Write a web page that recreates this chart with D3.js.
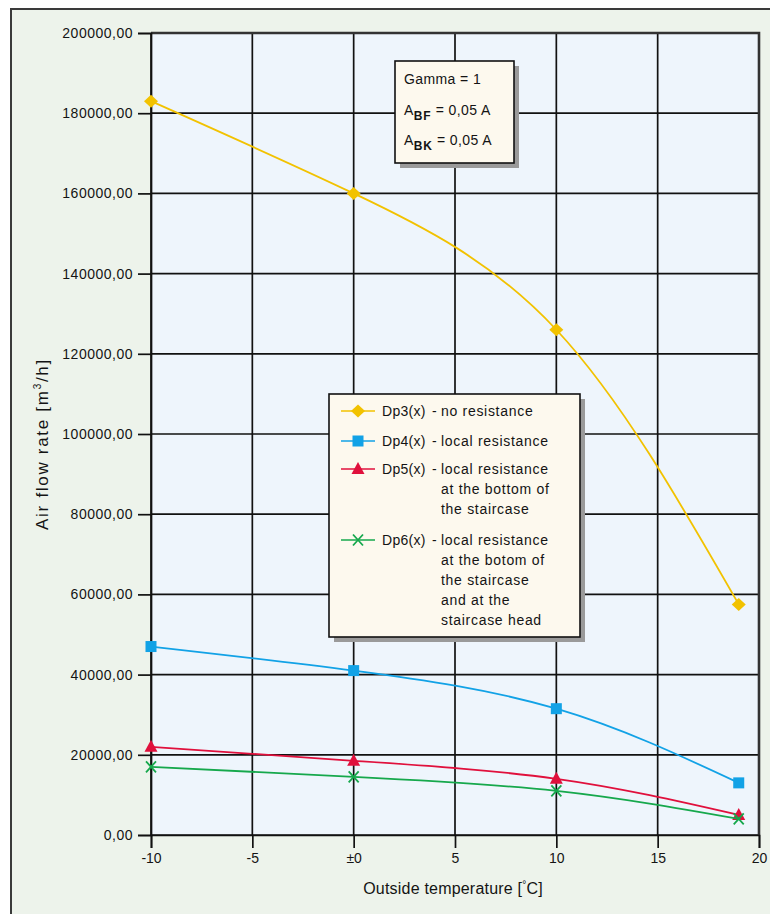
<!DOCTYPE html>
<html>
<head>
<meta charset="utf-8">
<script src="https://d3js.org/d3.v7.min.js"></script>
<style>
  html, body { margin: 0; padding: 0; background: #ffffff; }
  svg { display: block; }
  text { font-family: "Liberation Sans", Arial, Helvetica, sans-serif; fill: #141414; }
</style>
</head>
<body>
<script>
// Air flow rate through the staircase as a function of outside temperature
const temperatures = [-10, 0, 10, 19];
const dp3 = [183000, 160000, 126000, 57500];
const dp4 = [47000, 41000, 31500, 13000];
const dp5 = [22000, 18500, 14000, 5000];
const dp6 = [17000, 14500, 11000, 4000];

const xTicks = [-10, -5, 0, 5, 10, 15, 20];
const xTickLabels = ["-10", "-5", "±0", "5", "10", "15", "20"];
const yTicks = [0, 20000, 40000, 60000, 80000, 100000, 120000, 140000, 160000, 180000, 200000];

const seriesNames = ["Dp3(x)", "Dp4(x)", "Dp5(x)", "Dp6(x)"];
const seriesDescriptions = [
  ["no resistance"],
  ["local resistance"],
  ["local resistance", "at the bottom of", "the staircase"],
  ["local resistance", "at the botom of", "the staircase", "and at the", "staircase head"]
];
const seriesColors = ["#f2c200", "#12a2e6", "#e0103c", "#16a84c"];
const seriesMarkers = ["diamond", "square", "triangle", "cross"];

const W = 770, H = 914;
const svg = d3.select("body").append("svg").attr("width", W).attr("height", H);

// outer panel
svg.append("rect").attr("x", 0).attr("y", 0).attr("width", W).attr("height", H).attr("fill", "#ffffff");
svg.append("rect").attr("x", 11).attr("y", 9).attr("width", W + 10).attr("height", H + 10)
  .attr("fill", "#edf3eb").attr("stroke", "#3a3a3a").attr("stroke-width", 2);

const plot = { left: 151, right: 759, top: 33, bottom: 835 };
const x = d3.scaleLinear().domain([-10, 20]).range([plot.left, plot.right]);
const y = d3.scaleLinear().domain([0, 200000]).range([plot.bottom, plot.top]);

// plot background
svg.append("rect").attr("x", plot.left).attr("y", plot.top)
  .attr("width", plot.right - plot.left).attr("height", plot.bottom - plot.top)
  .attr("fill", "#eef5fc");

// grid
const grid = svg.append("g").attr("stroke", "#111").attr("stroke-width", 1.7);
grid.selectAll("line.v").data(xTicks).join("line").attr("class", "v")
  .attr("x1", d => x(d)).attr("x2", d => x(d)).attr("y1", plot.top).attr("y2", plot.bottom);
grid.selectAll("line.h").data(yTicks).join("line").attr("class", "h")
  .attr("x1", plot.left).attr("x2", plot.right).attr("y1", d => y(d)).attr("y2", d => y(d));
// heavier frame on top and right
svg.append("path")
  .attr("d", `M${plot.left},${plot.top}H${plot.right}V${plot.bottom}`)
  .attr("fill", "none").attr("stroke", "#333").attr("stroke-width", 2.6);

// y axis
const yAxis = d3.axisLeft(y).tickValues(yTicks).tickSize(13).tickPadding(5)
  .tickFormat(d => d3.format(".2f")(d).replace(".", ","));
const gy = svg.append("g").attr("transform", `translate(${plot.left},0)`).call(yAxis);
gy.select(".domain").attr("stroke", "#111").attr("stroke-width", 1.7);
gy.selectAll(".tick line").attr("stroke", "#111").attr("stroke-width", 1.7);
gy.selectAll(".tick text").attr("font-size", 14).attr("fill", "#141414")
  .attr("font-family", "'Liberation Sans', Arial, sans-serif").attr("letter-spacing", 0.5);

// x axis
const xAxis = d3.axisBottom(x).tickValues(xTicks).tickSize(13).tickPadding(5)
  .tickFormat((d, i) => xTickLabels[i]);
const gx = svg.append("g").attr("transform", `translate(0,${plot.bottom})`).call(xAxis);
gx.select(".domain").attr("stroke", "#111").attr("stroke-width", 1.7);
gx.selectAll(".tick line").attr("stroke", "#111").attr("stroke-width", 1.7);
gx.selectAll(".tick text").attr("font-size", 14).attr("fill", "#141414")
  .attr("font-family", "'Liberation Sans', Arial, sans-serif");

// axis titles
const xTitle = svg.append("text").attr("x", 453).attr("y", 894).attr("text-anchor", "middle")
  .attr("font-size", 16).attr("letter-spacing", 0.2);
xTitle.append("tspan").text("Outside temperature [");
xTitle.append("tspan").attr("font-size", 10).attr("dy", -6).text("°");
xTitle.append("tspan").attr("dy", 6).text("C]");

const yTitle = svg.append("text").attr("transform", "translate(48,444) rotate(-90)")
  .attr("text-anchor", "middle").attr("font-size", 17).attr("letter-spacing", 1.7);
yTitle.append("tspan").text("Air flow rate [m");
yTitle.append("tspan").attr("font-size", 10).attr("dy", -7).text("3");
yTitle.append("tspan").attr("dy", 7).text("/h]");

// markers
function drawMarker(g, type, cx, cy, color) {
  if (type === "diamond") {
    g.append("path").attr("d", `M${cx},${cy - 6.5}L${cx + 7},${cy}L${cx},${cy + 6.5}L${cx - 7},${cy}Z`)
      .attr("fill", color);
  } else if (type === "square") {
    g.append("rect").attr("x", cx - 5.5).attr("y", cy - 5.5).attr("width", 11).attr("height", 11).attr("fill", color);
  } else if (type === "triangle") {
    g.append("path").attr("d", `M${cx},${cy - 7}L${cx + 6.5},${cy + 5}L${cx - 6.5},${cy + 5}Z`).attr("fill", color);
  } else {
    g.append("path").attr("d", `M${cx - 5},${cy - 5.5}L${cx + 5},${cy + 5.5}M${cx + 5},${cy - 5.5}L${cx - 5},${cy + 5.5}`)
      .attr("stroke", color).attr("stroke-width", 1.8).attr("fill", "none");
  }
}

// series
const allSeries = [dp3, dp4, dp5, dp6];
const line = d3.line().x(d => x(d[0])).y(d => y(d[1])).curve(d3.curveNatural);
allSeries.forEach((vals, i) => {
  const pts = temperatures.map((t, j) => [t, vals[j]]);
  svg.append("path").datum(pts).attr("d", line)
    .attr("fill", "none").attr("stroke", seriesColors[i]).attr("stroke-width", 1.8);
  const g = svg.append("g");
  pts.forEach(p => drawMarker(g, seriesMarkers[i], x(p[0]), y(p[1]), seriesColors[i]));
});

// parameter box
const box = { x: 395, y: 61, w: 119, h: 102 };
svg.append("rect").attr("x", box.x + 5).attr("y", box.y + 5).attr("width", box.w).attr("height", box.h).attr("fill", "#9a9a9a");
svg.append("rect").attr("x", box.x).attr("y", box.y).attr("width", box.w).attr("height", box.h)
  .attr("fill", "#fdf9ee").attr("stroke", "#111").attr("stroke-width", 1.6);
svg.append("text").attr("x", 404).attr("y", 84).attr("font-size", 14).attr("letter-spacing", 0.4).text("Gamma = 1");
[["BF", 115], ["BK", 145]].forEach(([sub, yy]) => {
  const t = svg.append("text").attr("x", 404).attr("y", yy).attr("font-size", 14).attr("letter-spacing", 0.4);
  t.append("tspan").text("A");
  t.append("tspan").attr("dy", 5).attr("font-size", 12).attr("font-weight", "bold").attr("letter-spacing", 0.8).text(sub);
  t.append("tspan").attr("dy", -5).text(" = 0,05 A");
});

// legend
const leg = { x: 329, y: 394, w: 251, h: 243 };
svg.append("rect").attr("x", leg.x + 5).attr("y", leg.y + 5).attr("width", leg.w).attr("height", leg.h).attr("fill", "#9a9a9a");
svg.append("rect").attr("x", leg.x).attr("y", leg.y).attr("width", leg.w).attr("height", leg.h)
  .attr("fill", "#fdf9ee").attr("stroke", "#111").attr("stroke-width", 1.6);
const rowY = [411, 441, 469, 540];
seriesNames.forEach((name, i) => {
  const cy = rowY[i];
  svg.append("line").attr("x1", 341).attr("x2", 375).attr("y1", cy).attr("y2", cy)
    .attr("stroke", seriesColors[i]).attr("stroke-width", 1.6);
  drawMarker(svg.append("g"), seriesMarkers[i], 358, cy, seriesColors[i]);
  svg.append("text").attr("x", 382).attr("y", cy + 5).attr("font-size", 14).attr("letter-spacing", 0.3).text(name);
  svg.append("text").attr("x", 432).attr("y", cy + 5).attr("font-size", 14).text("-");
  seriesDescriptions[i].forEach((s, k) => {
    svg.append("text").attr("x", 441).attr("y", cy + 5 + k * 20).attr("font-size", 14)
      .attr("letter-spacing", 0.7).text(s);
  });
});
</script>
</body>
</html>
